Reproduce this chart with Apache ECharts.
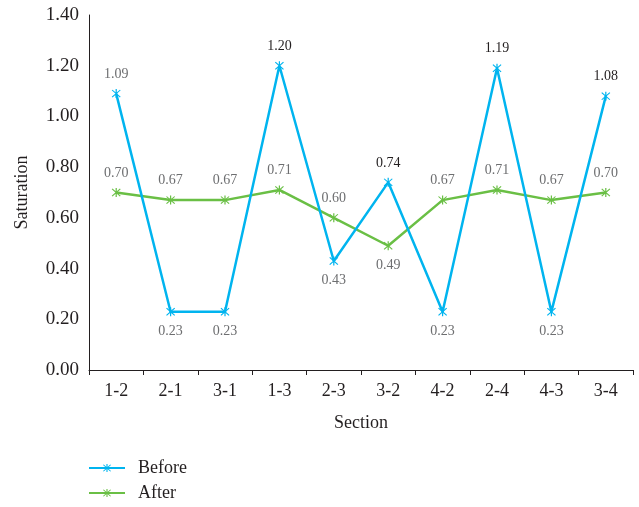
<!DOCTYPE html>
<html>
<head>
<meta charset="utf-8">
<script src="https://cdn.jsdelivr.net/npm/echarts@6/dist/echarts.min.js"></script>
<style>
  html, body { margin: 0; padding: 0; background: #fff; }
  #chart { width: 639px; height: 507px; }
</style>
</head>
<body>
<div id="chart"></div>
<script>
// Section labels along the x axis
const sections = ['1-2', '2-1', '3-1', '1-3', '2-3', '3-2', '4-2', '2-4', '4-3', '3-4'];
// Saturation before and after treatment
const beforeValues = [1.09, 0.23, 0.23, 1.20, 0.43, 0.74, 0.23, 1.19, 0.23, 1.08];
const afterValues = [0.70, 0.67, 0.67, 0.71, 0.60, 0.49, 0.67, 0.71, 0.67, 0.70];
// Label placement for each point ('top' or 'bottom')
const beforeLabelPos = ['top', 'bottom', 'bottom', 'top', 'bottom', 'top', 'bottom', 'top', 'bottom', 'top'];
const afterLabelPos = ['top', 'top', 'top', 'top', 'top', 'bottom', 'top', 'top', 'top', 'top'];
// Labels drawn in dark text rather than grey
const beforeDarkLabel = [false, false, false, true, false, true, false, true, false, true];

const FONT = '"Liberation Serif", "DejaVu Serif", serif';
const BLUE = '#00b4ef';
const GREEN = '#6abf45';

// Asterisk marker built from three thin bars
const asterisk = 'path://M4.4,0 L5.6,0 L5.6,10 L4.4,10 Z ' +
  'M0.6,1.4 L1.4,0.6 L9.4,8.6 L8.6,9.4 Z ' +
  'M8.6,0.6 L9.4,1.4 L1.4,9.4 L0.6,8.6 Z';

function buildData(values, positions, dark) {
  return values.map((v, i) => ({
    value: v,
    label: {
      position: positions[i],
      color: dark && dark[i] ? '#231f20' : '#6d6e70'
    }
  }));
}

const chart = echarts.init(document.getElementById('chart'), null, { renderer: 'canvas' });

chart.setOption({
  animation: false,
  backgroundColor: '#ffffff',
  grid: { left: 89, right: 6, top: 15, bottom: 137 },
  legend: {
    orient: 'vertical',
    left: 83,
    top: 454,
    height: 50,
    itemWidth: 36,
    itemHeight: 10,
    itemGap: 7,
    textStyle: { fontFamily: FONT, fontSize: 18, lineHeight: 18, color: '#231f20', padding: [0, 0, 0, 8] },
    data: ['Before', 'After']
  },
  xAxis: {
    type: 'category',
    data: sections,
    boundaryGap: true,
    name: 'Section',
    nameLocation: 'middle',
    nameGap: 44,
    nameTextStyle: { fontFamily: FONT, fontSize: 18, color: '#231f20' },
    axisLine: { lineStyle: { color: '#231f20', width: 1 } },
    axisTick: { show: true, length: 5, lineStyle: { color: '#231f20' } },
    axisLabel: { fontFamily: FONT, fontSize: 18, color: '#231f20', margin: 12 },
    splitLine: { show: false }
  },
  yAxis: {
    type: 'value',
    min: 0,
    max: 1.4,
    interval: 0.2,
    name: 'Saturation',
    nameLocation: 'middle',
    nameGap: 58,
    nameTextStyle: { fontFamily: FONT, fontSize: 18, color: '#231f20' },
    axisLine: { show: true, lineStyle: { color: '#231f20', width: 1 } },
    axisTick: { show: false },
    axisLabel: {
      fontFamily: FONT, fontSize: 19, color: '#231f20', margin: 10,
      formatter: v => v.toFixed(2)
    },
    splitLine: { show: false }
  },
  series: [
    {
      name: 'Before',
      type: 'line',
      data: buildData(beforeValues, beforeLabelPos, beforeDarkLabel),
      symbol: asterisk,
      symbolSize: 9,
      showAllSymbol: true,
      lineStyle: { color: BLUE, width: 2.5 },
      itemStyle: { color: BLUE },
      label: {
        show: true,
        fontFamily: FONT,
        fontSize: 14,
        distance: 8,
        formatter: p => p.value.toFixed(2)
      },
      z: 3
    },
    {
      name: 'After',
      type: 'line',
      data: buildData(afterValues, afterLabelPos, null),
      symbol: asterisk,
      symbolSize: 9,
      showAllSymbol: true,
      lineStyle: { color: GREEN, width: 2.5 },
      itemStyle: { color: GREEN },
      label: {
        show: true,
        fontFamily: FONT,
        fontSize: 14,
        distance: 8,
        formatter: p => p.value.toFixed(2)
      },
      z: 2
    }
  ]
});
</script>
</body>
</html>
